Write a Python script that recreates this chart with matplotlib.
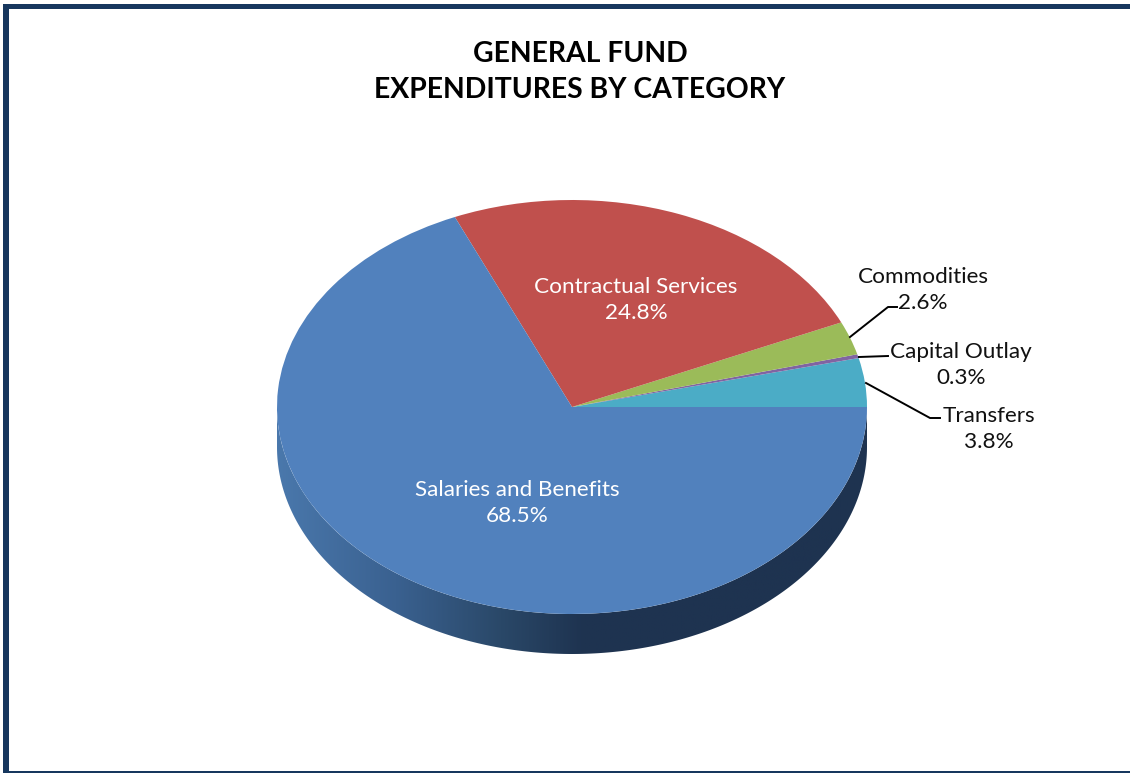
import numpy as np
import matplotlib
matplotlib.use("Agg")
import matplotlib.pyplot as plt
from matplotlib.colors import LinearSegmentedColormap
from matplotlib.patches import Polygon

plt.rcParams['font.family'] = ['Lato', 'DejaVu Sans']

# --- Expenditure shares (percent), counter-clockwise from 3 o'clock ---
categories = ['Transfers', 'Capital Outlay', 'Commodities', 'Contractual Services', 'Salaries and Benefits']
shares = [3.8, 0.3, 2.6, 24.8, 68.5]
colors = ['#4BACC6', '#8064A2', '#9BBB59', '#C0504D', '#5181BD']
title_lines = ['GENERAL FUND', 'EXPENDITURES BY CATEGORY']

W, H = 1130, 773
CX, CY, RX, RY = 572, 407, 295, 207
DEPTH = 40
NAVY = '#17375E'

fig = plt.figure(figsize=(W / 100, H / 100), dpi=100)

# Background layer in pixel coordinates: frame and pie wall
base = fig.add_axes([0, 0, 1, 1])
base.set_xlim(0, W)
base.set_ylim(H, 0)
base.axis('off')

base.fill_between([3, 9], 4, 771, color=NAVY, lw=0)
base.fill_between([3, W], 4, 9, color=NAVY, lw=0)
base.fill_between([3, W], 771, 773, color=NAVY, lw=0)

# Wall of the disc: lower half of the ellipse pushed down by DEPTH
t = np.linspace(0, np.pi, 300)
edge_x = CX + RX * np.cos(t)
edge_y = CY + RY * np.sin(t)
wall = np.column_stack([np.r_[edge_x, edge_x[::-1]], np.r_[edge_y, edge_y[::-1] + DEPTH]])
wall_cmap = LinearSegmentedColormap.from_list(
    'wall', [(0, '#4A78AC'), (0.2, '#3A6190'), (0.38, '#2A4868'), (0.52, '#1E3350'), (1, '#1E3350')])
grad = base.imshow(np.linspace(0, 1, 256)[None, :], cmap=wall_cmap, aspect='auto',
                   extent=[CX - RX, CX + RX, CY + RY + DEPTH, CY])
grad.set_clip_path(Polygon(wall, transform=base.transData))
base.set_xlim(0, W)
base.set_ylim(H, 0)

# Top face: an ordinary pie in an axes squashed to the ellipse
pie_ax = fig.add_axes([(CX - RX) / W, 1 - (CY + RY) / H, 2 * RX / W, 2 * RY / H])
pie_ax.pie(shares, colors=colors, startangle=0, counterclock=True, radius=1,
           wedgeprops={'linewidth': 0})
pie_ax.set_aspect('auto')
pie_ax.set_xlim(-1, 1)
pie_ax.set_ylim(-1, 1)

# Text and leader lines
top = fig.add_axes([0, 0, 1, 1])
top.set_xlim(0, W)
top.set_ylim(H, 0)
top.axis('off')

top.text(580, 72, '\n'.join(title_lines), ha='center', va='center', fontsize=20.4,
         fontweight='bold', color='black', linespacing=1.46)

label_pos = {
    'Salaries and Benefits': (517, 503, 'white'),
    'Contractual Services': (636, 300, 'white'),
    'Commodities': (923, 290, '#111111'),
    'Capital Outlay': (961, 365, '#111111'),
    'Transfers': (989, 429, '#111111'),
}
for name, share in zip(categories, shares):
    x, y, c = label_pos[name]
    top.text(x, y, f'{name}\n{share}%', ha='center', va='center', color=c,
             fontsize=16.2, linespacing=1.43)

leaders = [
    ([850, 888, 897], [337, 307, 307]),
    ([859, 888], [357, 356]),
    ([866, 930, 940], [383, 418, 418]),
]
for lx, ly in leaders:
    top.plot(lx, ly, color='black', lw=1.4)

fig.savefig('out.png', dpi=100)
